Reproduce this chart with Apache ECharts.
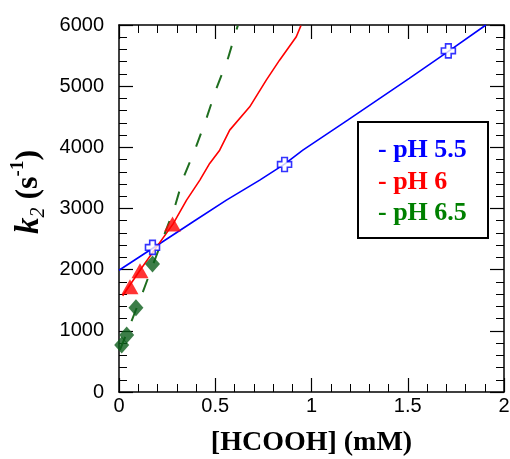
<!DOCTYPE html>
<html>
<head>
<meta charset="utf-8">
<script src="https://cdn.jsdelivr.net/npm/echarts@6/dist/echarts.min.js"></script>
<style>html,body{margin:0;padding:0;background:#fff}#c{width:510px;height:459px}</style>
</head>
<body>
<div id="c"></div>
<script>
// pH 5.5
var blueCrossX = [0.174, 0.86, 1.711];
var blueCrossY = [2364, 3720, 5577];
var blueLineX = [0, 0.187, 0.385, 0.558, 0.731, 0.86, 0.955, 1.188, 1.508, 1.711, 1.906];
var blueLineY = [1990, 2374, 2783, 3137, 3464, 3725, 3954, 4444, 5126, 5570, 6000];
// pH 6
var redTriX = [0.057, 0.109, 0.278];
var redTriY = [1721, 1982, 2745];
var redLineX = [0.019, 0.109, 0.281, 0.351, 0.42, 0.471, 0.523, 0.575, 0.679, 0.765, 0.834, 0.921, 0.945];
var redLineY = [1574, 1990, 2749, 3137, 3464, 3737, 3954, 4281, 4662, 5098, 5425, 5808, 5990];
// pH 6.5
var greenDiaX = [0.014, 0.04, 0.088, 0.174];
var greenDiaY = [768, 931, 1378, 2092];
var greenLineX = [0.005, 0.057, 0.118, 0.174, 0.29, 0.333, 0.394, 0.454, 0.506, 0.566, 0.617];
var greenLineY = [690, 1095, 1585, 2060, 3028, 3492, 3954, 4472, 4962, 5453, 5990];
// axes
var xTicks = [0, 0.5, 1, 1.5, 2];
var yTicks = [0, 1000, 2000, 3000, 4000, 5000, 6000];
var legendLabels = ['- pH 5.5', '- pH 6', '- pH 6.5'];

function pairs(xs, ys) { return xs.map(function (x, i) { return [x, ys[i]]; }); }

var chart = echarts.init(document.getElementById('c'));
function axisLine() { return { show: true, onZero: false, lineStyle: { color: '#000', width: 1.5 } }; }
function tick() { return { show: true, inside: false, length: -14, lineStyle: { color: '#000', width: 1.2 } }; }
function minor() { return { show: true, splitNumber: 5, length: -8, lineStyle: { color: '#000', width: 1 } }; }
var crossPath = 'path://M3,0 H7 V3 H10 V7 H7 V10 H3 V7 H0 V3 H3 Z';

chart.setOption({
  animation: false,
  grid: { left: 119, right: 6, top: 25, bottom: 67, containLabel: false, outerBoundsMode: 'none' },
  xAxis: [{
    type: 'value', min: xTicks[0], max: xTicks[xTicks.length - 1], interval: 0.5,
    axisLine: axisLine(), axisTick: tick(), minorTick: minor(), splitLine: { show: false },
    axisLabel: { color: '#000', fontFamily: 'Liberation Sans', fontSize: 20, margin: 4,
      formatter: function (v) { return String(v); } },
    name: '[HCOOH] (mM)', nameLocation: 'middle', nameGap: 37,
    nameTextStyle: { color: '#000', fontFamily: 'Liberation Serif', fontWeight: 'bold', fontSize: 28 }
  }, {
    type: 'value', position: 'top', min: 0, max: 2, interval: 0.5,
    axisLine: axisLine(), axisTick: tick(), minorTick: minor(), splitLine: { show: false },
    axisLabel: { show: false }
  }],
  yAxis: [{
    type: 'value', min: yTicks[0], max: yTicks[yTicks.length - 1], interval: 1000,
    axisLine: axisLine(), axisTick: tick(), minorTick: minor(), splitLine: { show: false },
    axisLabel: { color: '#000', fontFamily: 'Liberation Sans', fontSize: 20, margin: 15,
      formatter: function (v) { return String(v); } }
  }, {
    type: 'value', position: 'right', min: 0, max: 6000, interval: 1000,
    axisLine: axisLine(), axisTick: tick(), minorTick: minor(), splitLine: { show: false },
    axisLabel: { show: false }
  }],
  series: [
    { type: 'line', data: pairs(blueLineX, blueLineY), showSymbol: false, symbol: 'none',
      lineStyle: { color: '#0000ff', width: 1.6 }, z: 2 },
    { type: 'line', data: pairs(redLineX, redLineY), showSymbol: false, symbol: 'none',
      lineStyle: { color: '#ff0000', width: 1.6 }, z: 2 },
    { type: 'line', data: pairs(greenLineX, greenLineY), showSymbol: false, symbol: 'none',
      lineStyle: { color: '#1f6e1f', width: 2, type: [14, 17] }, z: 2 },
    { type: 'scatter', data: pairs(greenDiaX, greenDiaY), symbol: 'diamond', symbolSize: [15, 17],
      itemStyle: { color: '#0b5e1a' }, z: 3 },
    { type: 'scatter', data: pairs(redTriX, redTriY), symbol: 'triangle', symbolSize: [17, 15],
      itemStyle: { color: '#ff0000' }, z: 3 },
    { type: 'scatter', data: pairs(blueCrossX, blueCrossY), symbol: crossPath, symbolSize: 14,
      itemStyle: { color: '#ffffff', borderColor: '#0000ff', borderWidth: 1.6 }, z: 4 }
  ],
  graphic: [
    { type: 'text', x: 29, y: 192, rotation: Math.PI / 2,
      style: {
        text: '{k|k}{sub|2}{n| (s}{sup|-1}{n|)}',
        align: 'center', verticalAlign: 'middle',
        rich: {
          k: { fontFamily: 'Liberation Serif', fontStyle: 'italic', fontWeight: 'bold', fontSize: 33, lineHeight: 40, verticalAlign: 'middle', fill: '#000' },
          sub: { fontFamily: 'Liberation Serif', fontStyle: 'italic', fontSize: 20, lineHeight: 40, verticalAlign: 'bottom', fill: '#000' },
          n: { fontFamily: 'Liberation Serif', fontWeight: 'bold', fontSize: 32, lineHeight: 40, verticalAlign: 'middle', fill: '#000' },
          sup: { fontFamily: 'Liberation Serif', fontWeight: 'bold', fontSize: 19, lineHeight: 40, verticalAlign: 'top', fill: '#000' }
        }
      } },
    { type: 'rect', shape: { x: 358, y: 122, width: 130, height: 116 },
      style: { fill: '#fff', stroke: '#000', lineWidth: 2 }, z: 10 },
    { type: 'text', x: 378, y: 150, z: 11,
      style: { text: legendLabels[0], fill: '#0000ff', font: 'bold 26px "Liberation Serif"', verticalAlign: 'middle' } },
    { type: 'text', x: 378, y: 182, z: 11,
      style: { text: legendLabels[1], fill: '#ff0000', font: 'bold 26px "Liberation Serif"', verticalAlign: 'middle' } },
    { type: 'text', x: 378, y: 213, z: 11,
      style: { text: legendLabels[2], fill: '#008000', font: 'bold 26px "Liberation Serif"', verticalAlign: 'middle' } }
  ]
});
</script>
</body>
</html>
